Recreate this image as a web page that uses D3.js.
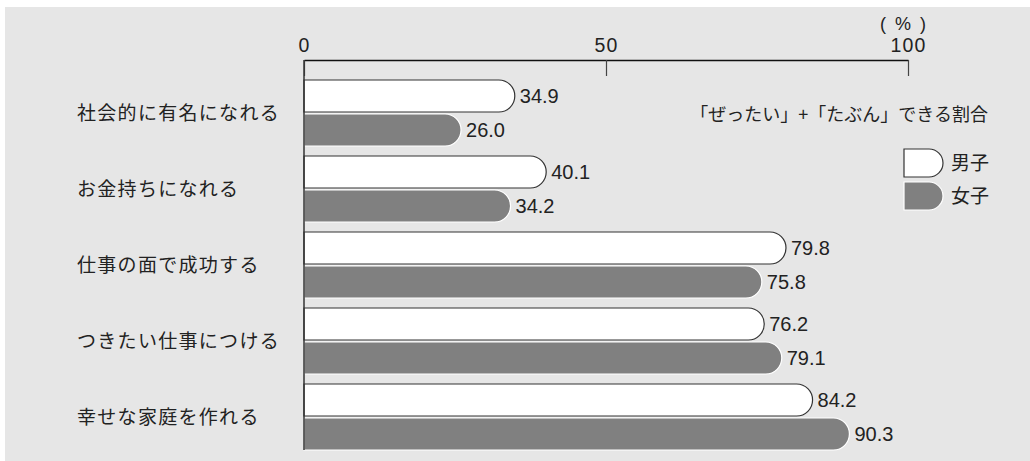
<!DOCTYPE html>
<html>
<head>
<meta charset="utf-8">
<script src="https://cdn.jsdelivr.net/npm/d3@7"></script>
<style>
  html, body { margin: 0; padding: 0; background: #ffffff; }
  svg { display: block; }
</style>
</head>
<body>
<svg id="chart" width="1030" height="461"></svg>
<script>
// Share answering "definitely" + "probably" can, by item and sex (%)
const categories = ["社会的に有名になれる", "お金持ちになれる", "仕事の面で成功する", "つきたい仕事につける", "幸せな家庭を作れる"];
const seriesNames = ["男子", "女子"];
const boys  = [34.9, 40.1, 79.8, 76.2, 84.2];
const girls = [26.0, 34.2, 75.8, 79.1, 90.3];
const tickValues = [0, 50, 100];

const svg = d3.select("#chart");
const jp = "'Noto Sans CJK JP', 'Noto Sans', sans-serif";
const num = "'Liberation Sans', Arial, sans-serif";
const textColor = "#222";

// panel background
svg.append("rect")
  .attr("x", 5).attr("y", 7)
  .attr("width", 1025).attr("height", 454)
  .attr("fill", "#e6e6e6");

const x = d3.scaleLinear().domain([0, 100]).range([304, 908]);
const y = d3.scaleBand().domain(categories).range([75, 455])
  .paddingInner(10 / 76).paddingOuter(5 / 76);
const ySub = d3.scaleBand().domain(seriesNames).range([0, y.bandwidth()])
  .paddingInner(2 / 34);

const fills = { "男子": "#ffffff", "女子": "#808080" };
const strokes = { "男子": "#333333", "女子": "#ffffff" };

// bar with a semicircular right end; the rightmost point sits at the value
function roundBar(x0, x1, top, h) {
  const r = h / 2;
  const xs = Math.max(x0, x1 - r);
  return `M${x0},${top}H${xs}A${r},${r} 0 0 1 ${xs},${top + h}H${x0}Z`;
}

// top axis
const axisY = 60;
const axis = d3.axisTop(x).tickValues(tickValues).tickSize(0).tickPadding(8);
const gAxis = svg.append("g").attr("transform", `translate(0,${axisY})`).call(axis);
gAxis.select(".domain").attr("stroke", "#111").attr("stroke-width", 1.5);
gAxis.selectAll(".tick text")
  .attr("font-family", num).attr("font-size", 19.5)
  .attr("letter-spacing", 1.2).attr("fill", textColor);
// tick marks hang below the axis line
gAxis.selectAll(".tick").append("line")
  .attr("y1", 0).attr("y2", 16)
  .attr("stroke", "#444").attr("stroke-width", 1.2);

svg.append("text")
  .attr("x", x(100) - 4).attr("y", 30)
  .attr("text-anchor", "middle")
  .attr("font-family", num).attr("font-size", 18)
  .attr("letter-spacing", 2).attr("fill", textColor)
  .text("( % )");

// bars
const rows = categories.map((c, i) => ({ c, vals: [boys[i], girls[i]] }));
const groups = svg.append("g").selectAll("g").data(rows).join("g")
  .attr("transform", d => `translate(0,${y(d.c)})`);

groups.selectAll("path").data(d => d.vals.map((v, j) => ({ s: seriesNames[j], v })))
  .join("path")
  .attr("d", d => roundBar(x(0), x(d.v), ySub(d.s), ySub.bandwidth()))
  .attr("fill", d => fills[d.s])
  .attr("stroke", d => strokes[d.s])
  .attr("stroke-width", 1.2);

groups.selectAll("text.val").data(d => d.vals.map((v, j) => ({ s: seriesNames[j], v })))
  .join("text").attr("class", "val")
  .attr("x", d => x(d.v) + 5)
  .attr("y", d => ySub(d.s) + ySub.bandwidth() / 2)
  .attr("dy", "0.36em")
  .attr("font-family", num).attr("font-size", 20).attr("fill", textColor)
  .text(d => d.v.toFixed(1));

// category labels
svg.append("g").selectAll("text").data(categories).join("text")
  .attr("x", 77)
  .attr("y", d => y(d) + y.bandwidth() / 2)
  .attr("dy", "0.36em")
  .attr("font-family", jp).attr("font-size", 19)
  .attr("letter-spacing", 1.3).attr("fill", textColor)
  .text(d => d);

// zero baseline
svg.append("line")
  .attr("x1", x(0)).attr("x2", x(0))
  .attr("y1", axisY).attr("y2", 450)
  .attr("stroke", "#333").attr("stroke-width", 1.5);

// note and legend
svg.append("text")
  .attr("x", 988).attr("y", 115).attr("dy", "0.36em")
  .attr("text-anchor", "end")
  .attr("font-family", jp).attr("font-size", 18).attr("fill", textColor)
  .text("「ぜったい」+「たぶん」できる割合");

const legend = svg.append("g").selectAll("g").data(seriesNames).join("g")
  .attr("transform", (d, i) => `translate(904,${149 + i * 33})`);
legend.append("path")
  .attr("d", roundBar(0, 39, 0, 28))
  .attr("fill", d => fills[d])
  .attr("stroke", d => strokes[d])
  .attr("stroke-width", 1.2);
legend.append("text")
  .attr("x", 47).attr("y", 14).attr("dy", "0.36em")
  .attr("font-family", jp).attr("font-size", 19).attr("fill", textColor)
  .text(d => d);
</script>
</body>
</html>
